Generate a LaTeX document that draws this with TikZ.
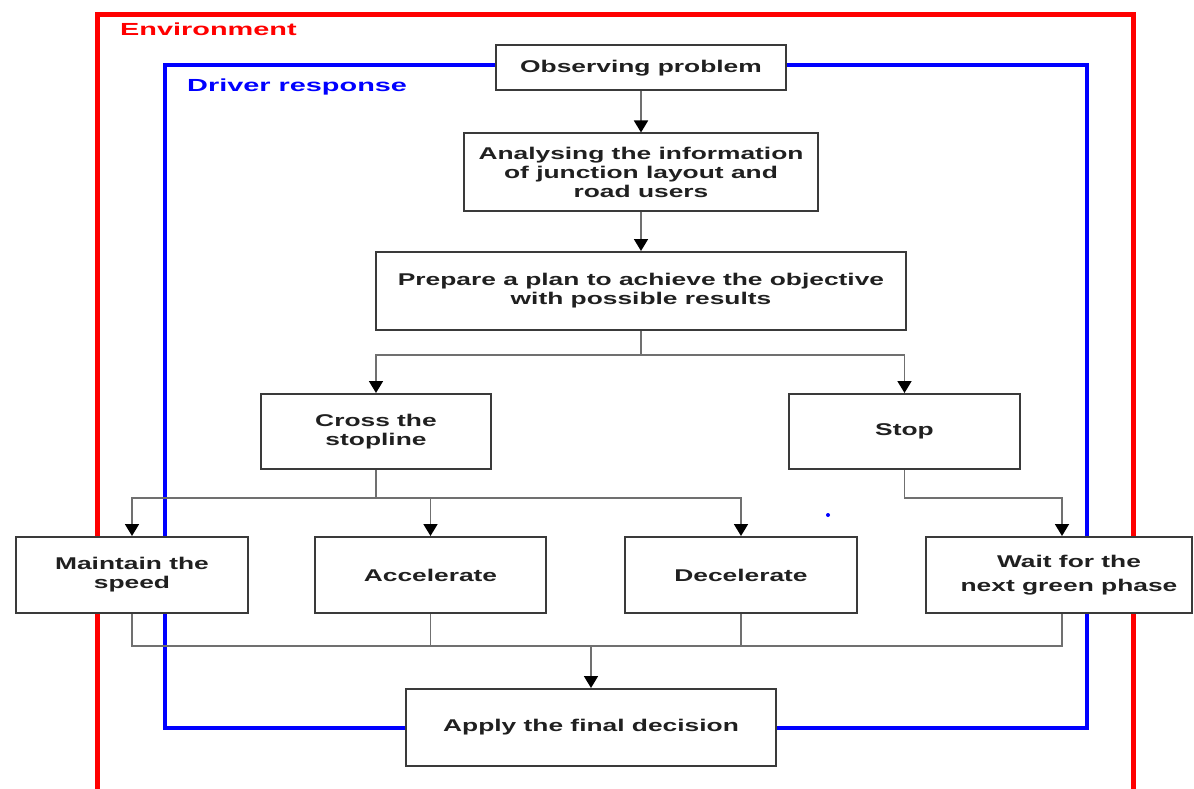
\documentclass[tikz,border=0pt]{standalone}
\usepackage{fontspec}
\usetikzlibrary{arrows.meta}
\newfontfamily\dfont[FakeStretch=1.55]{Liberation Sans}
\newfontfamily\lfont[FakeStretch=1.65]{Liberation Sans}
\definecolor{boxline}{HTML}{3A3A3A}
\definecolor{conn}{HTML}{707070}
\definecolor{txt}{HTML}{202020}
\begin{document}
\begin{tikzpicture}[x=1pt,y=-1pt,
  box/.style={draw=boxline,line width=2pt,fill=white,inner sep=0pt,align=center,
    text=txt,font=\dfont\bfseries\fontsize{17}{19}\selectfont},
  conline/.style={draw=conn,line width=1.8pt},
  arr/.style={conline,-{Triangle[width=14pt,length=12pt,fill=black,color=black]}},
  framelbl/.style={anchor=west,inner sep=0pt,font=\lfont\bfseries\fontsize{17.5}{20}\selectfont}]
\useasboundingbox (0,0) rectangle (1194,789);
\fill[white] (0,0) rectangle (1194,789);
% frames
\begin{scope}
\clip (0,0) rectangle (1194,789);
\draw[red,line width=5pt] (97.5,800) -- (97.5,15) -- (1133,15) -- (1133,800);
\end{scope}
\draw[blue,line width=4pt] (165,65) rectangle (1087,728);
\node[framelbl,text=red] (envlbl) at (120,29) {Environment};
\node[framelbl,text=blue] (drvlbl) at (187,87) {Driver response};
\fill[blue] (828,515) circle (2pt);
% boxes
\node[box,minimum width=290,minimum height=45] (obs) at (641,68) {\raisebox{-2pt}{Observing problem}};
\node[box,minimum width=354,minimum height=77] (ana) at (641,172) {Analysing the information\\of junction layout and\\road users};
\node[box,minimum width=530,minimum height=78] (prep) at (641,291) {Prepare a plan to achieve the objective\\with possible results};
\node[box,minimum width=230,minimum height=75] (cross) at (376,431.5) {Cross the\\stopline};
\node[box,minimum width=231,minimum height=75] (stop) at (904.5,431.5) {\raisebox{-2pt}{Stop}};
\node[box,minimum width=232,minimum height=76] (maint) at (132,575) {Maintain the\\speed};
\node[box,minimum width=231,minimum height=76] (acc) at (430.5,575) {\raisebox{-2pt}{Accelerate}};
\node[box,minimum width=232,minimum height=76] (dec) at (741,575) {\raisebox{-2pt}{Decelerate}};
\node[box,minimum width=266,minimum height=76,font=\dfont\bfseries\fontsize{17}{24}\selectfont] (wait) at (1059,575) {\hspace*{20pt}Wait for the\\\hspace*{20pt}next green phase};
\node[box,minimum width=370,minimum height=77] (apply) at (591,727.5) {\raisebox{-2pt}{Apply the final decision}};
% connectors
\draw[arr] (obs.south) -- (ana.north);
\draw[arr] (ana.south) -- (prep.north);
\draw[arr] (prep.south) -- ++(0,24) -| (cross.north);
\draw[arr] (prep.south) -- ++(0,24) -| (stop.north);
\draw[arr] (cross.south) -- ++(0,28) -| (maint.north);
\draw[arr] (cross.south) -- ++(0,28) -| (acc.north);
\draw[arr] (cross.south) -- ++(0,28) -| (dec.north);
\draw[arr] (stop.south) -- ++(0,28) -| ([xshift=3pt]wait.north);
\coordinate (merge) at (591,645);
\draw[conline] (maint.south) -- ++(0,32) -| ([xshift=3pt]wait.south);
\draw[conline] (acc.south) -- (acc.south |- merge);
\draw[conline] (dec.south) -- (dec.south |- merge);
\draw[arr] (merge) -- (apply.north);
\end{tikzpicture}
\end{document}
